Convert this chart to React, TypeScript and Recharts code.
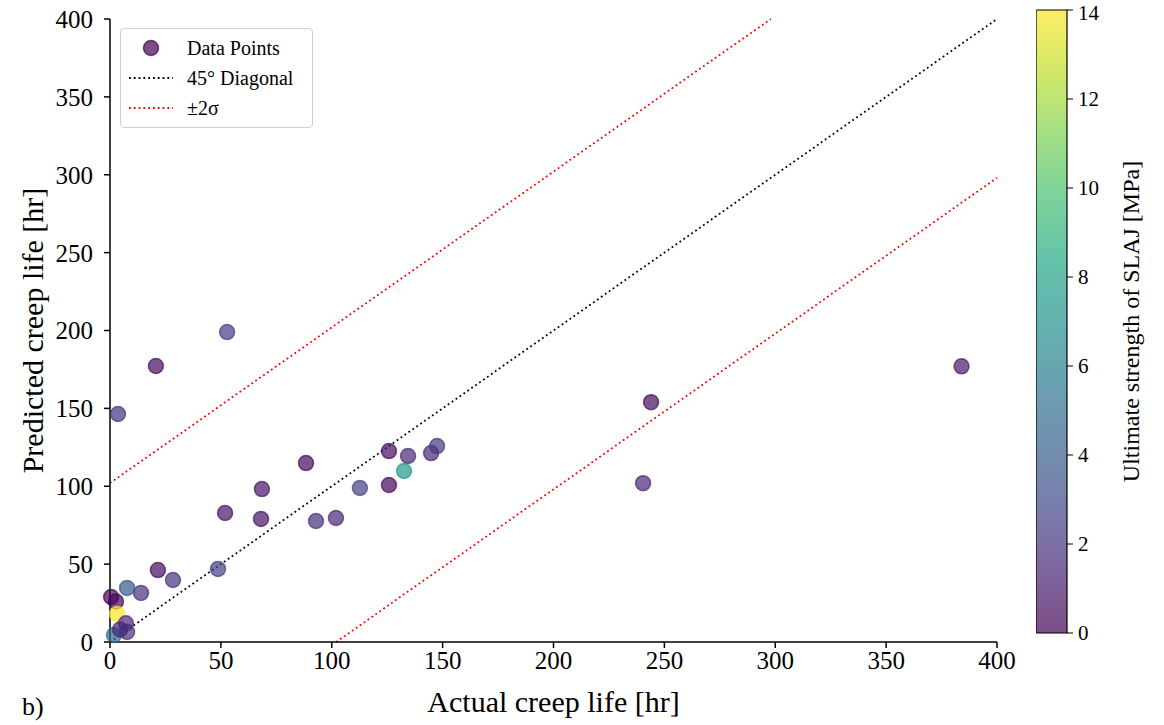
import {
  ScatterChart,
  Scatter,
  XAxis,
  YAxis,
  ReferenceLine,
  BarChart,
  Bar,
} from 'recharts';

// actual creep life [hr], predicted creep life [hr], ultimate strength of SLAJ [MPa]
const actualLife = [
  3.6, 20.7, 52.8, 384, 244, 240.4, 125.8, 134.4, 144.8, 147.5, 132.6, 125.8, 112.7, 88.4, 68.5, 51.9,
  68.1, 92.9, 101.9, 48.7, 21.6, 28.4, 14, 7.7, 0.5, 2.7, 3.2, 7.2, 7.7, 1.8, 4.5,
];
const predictedLife = [
  146.4, 177.2, 199, 177, 154, 102, 122.6, 119.4, 121.3, 125.8, 109.8, 100.8, 98.9, 114.9, 98.2, 82.8,
  79, 77.7, 79.6, 46.9, 46.2, 39.8, 31.5, 34.7, 28.9, 26, 18, 12, 6.5, 4.5, 8,
];
const strength = [
  2, 0.5, 2.6, 1, 0.5, 1.5, 0.5, 1.5, 1.5, 2.3, 7.5, 0.3, 2.6, 0.5, 0.8, 0.8,
  0.8, 1.8, 1.5, 2.6, 0.5, 2, 2, 3.8, 0, 0.2, 14, 1.5, 2, 5, 1.5,
];

const axisTicks = [0, 50, 100, 150, 200, 250, 300, 350, 400];
const colorTicks = [0, 2, 4, 6, 8, 10, 12, 14];
const strengthMax = 14;
const twoSigma = 102;

const VIRIDIS = [
  '#440154', '#482475', '#414487', '#355f8d', '#2a788e', '#21918c',
  '#22a884', '#44bf70', '#7ad151', '#bddf26', '#fde725',
];

const hex = (c: string) => [1, 3, 5].map((i) => parseInt(c.slice(i, i + 2), 16));

function viridis(t: number) {
  const s = Math.max(0, Math.min(1, t)) * (VIRIDIS.length - 1);
  const i = Math.min(Math.floor(s), VIRIDIS.length - 2);
  const f = s - i;
  const a = hex(VIRIDIS[i]);
  const b = hex(VIRIDIS[i + 1]);
  const rgb = a.map((v, k) => Math.round(v + (b[k] - v) * f));
  return `rgb(${rgb.join(',')})`;
}

const points = actualLife.map((x, i) => ({
  x,
  y: predictedLife[i],
  color: viridis(strength[i] / strengthMax),
}));

const FONT = '"Liberation Serif", "DejaVu Serif", serif';
const tickStyle = { fontSize: 25, fill: '#000', fontFamily: FONT };

const Dot = (p: any) => (
  <circle
    cx={p.cx}
    cy={p.cy}
    r={7.5}
    fill={p.payload.color}
    fillOpacity={0.7}
    stroke={p.payload.color}
    strokeOpacity={0.7}
    strokeWidth={1.5}
  />
);

const dotted = { strokeDasharray: '1.8 3', strokeWidth: 1.8 };

export default function App() {
  return (
    <div style={{ position: 'relative', width: 1164, height: 725, fontFamily: FONT, background: '#fff' }}>
      <style>{'body{margin:0}'}</style>

      <div style={{ position: 'absolute', left: 0, top: 0 }}>
        <ScatterChart width={1020} height={725} margin={{ top: 19, right: 23, bottom: 5, left: 0 }}>
          <XAxis
            type="number"
            dataKey="x"
            domain={[0, 400]}
            ticks={axisTicks}
            height={78}
            tickSize={6}
            tickMargin={3}
            tick={tickStyle}
            stroke="#000"
            strokeWidth={1.5}
            label={{ value: 'Actual creep life [hr]', position: 'insideBottom', offset: 8, style: { fontSize: 30, fill: '#000', fontFamily: FONT } }}
          />
          <YAxis
            type="number"
            dataKey="y"
            domain={[0, 400]}
            ticks={axisTicks}
            width={110}
            tickSize={6}
            tickMargin={11}
            tick={tickStyle}
            stroke="#000"
            strokeWidth={1.5}
            label={{ value: 'Predicted creep life [hr]', angle: -90, position: 'insideLeft', offset: 32, style: { fontSize: 30, fill: '#000', fontFamily: FONT, textAnchor: 'middle' } }}
          />
          <Scatter data={points} shape={Dot} isAnimationActive={false} />
          <ReferenceLine segment={[{ x: 0, y: 0 }, { x: 400, y: 400 }]} stroke="#000" {...dotted} />
          <ReferenceLine segment={[{ x: 0, y: twoSigma }, { x: 400 - twoSigma, y: 400 }]} stroke="#ff0000" {...dotted} />
          <ReferenceLine segment={[{ x: twoSigma, y: 0 }, { x: 400, y: 400 - twoSigma }]} stroke="#ff0000" {...dotted} />
        </ScatterChart>
      </div>

      {/* legend */}
      <div
        style={{
          position: 'absolute', left: 120, top: 28, width: 193, height: 100,
          border: '1px solid #cfcfcf', borderRadius: 4, background: 'rgba(255,255,255,0.8)',
          fontSize: 20, boxSizing: 'border-box',
        }}
      >
        {[
          { label: 'Data Points', kind: 'dot' },
          { label: '45° Diagonal', kind: 'black' },
          { label: '±2σ', kind: 'red' },
        ].map((r, i) => (
          <div key={i} style={{ position: 'absolute', left: 0, top: 6 + i * 30, height: 26, display: 'flex', alignItems: 'center' }}>
            <svg width={66} height={26}>
              {r.kind === 'dot' ? (
                <circle cx={30} cy={13} r={7.5} fill={viridis(0)} fillOpacity={0.7} stroke={viridis(0)} strokeOpacity={0.7} strokeWidth={1.5} />
              ) : (
                <line x1={8} x2={52} y1={13} y2={13} stroke={r.kind === 'red' ? '#ff0000' : '#000'} {...dotted} />
              )}
            </svg>
            <span>{r.label}</span>
          </div>
        ))}
      </div>

      {/* colorbar */}
      <div style={{ position: 'absolute', left: 1036, top: 0 }}>
        <BarChart
          width={127}
          height={725}
          data={[{ name: 'cb', v: strengthMax }]}
          margin={{ top: 10, right: 0, bottom: 92, left: 0 }}
          barCategoryGap={0}
        >
          <defs>
            <linearGradient id="viridisGrad" x1="0" y1="1" x2="0" y2="0">
              {VIRIDIS.map((c, i) => (
                <stop key={i} offset={i / (VIRIDIS.length - 1)} stopColor={c} stopOpacity={0.7} />
              ))}
            </linearGradient>
          </defs>
          <XAxis dataKey="name" hide />
          <YAxis
            orientation="right"
            type="number"
            domain={[0, strengthMax]}
            ticks={colorTicks}
            width={96}
            tickSize={6}
            tickMargin={5}
            tick={{ fontSize: 21, fill: '#000', fontFamily: FONT }}
            stroke="#000"
            axisLine={false}
            label={{ value: 'Ultimate strength of SLAJ [MPa]', angle: -90, position: 'insideRight', offset: 33, style: { fontSize: 24, fill: '#000', fontFamily: FONT, textAnchor: 'middle' } }}
          />
          <Bar dataKey="v" fill="url(#viridisGrad)" stroke="#000" strokeWidth={1.2} isAnimationActive={false} />
        </BarChart>
      </div>

      <div style={{ position: 'absolute', left: 22, top: 692, fontSize: 26 }}>b)</div>
    </div>
  );
}
